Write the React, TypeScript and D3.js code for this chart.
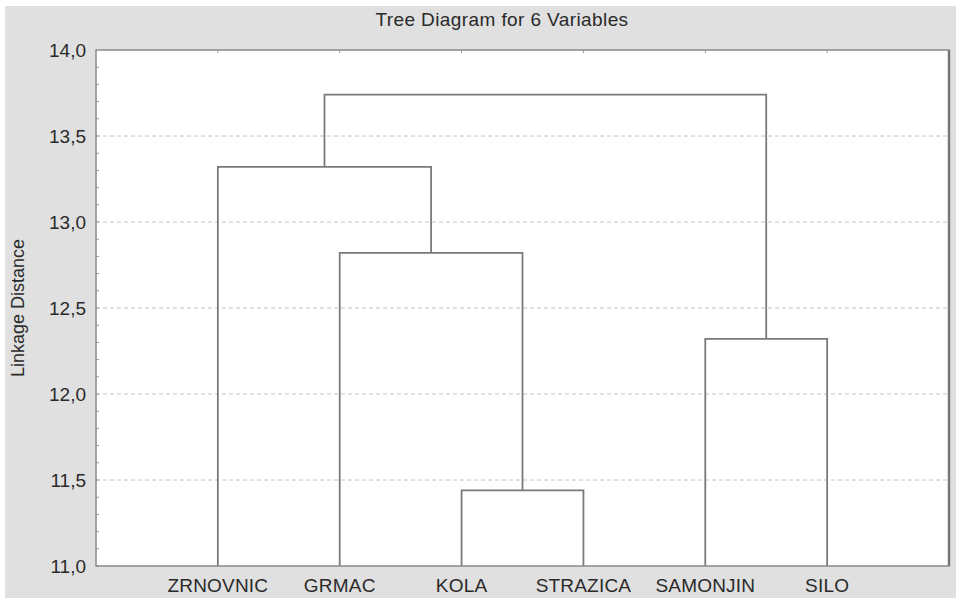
import React from 'react'
import * as d3 from 'd3'

// leaves in drawing order
const leaves = ['ZRNOVNIC', 'GRMAC', 'KOLA', 'STRAZICA', 'SAMONJIN', 'SILO']
// linkage: cluster ids 0..5 are leaves, 6.. are merges in order
const mergeA = [2, 4, 1, 0, 9]
const mergeB = [3, 5, 6, 8, 7]
const mergeHeight = [11.44, 12.32, 12.82, 13.32, 13.74]
const yTicks = [11, 11.5, 12, 12.5, 13, 13.5, 14]

const W = 956
const H = 598
const left = 96
const right = 949
const top = 50
const bottom = 566
const font = 'Arial, "Liberation Sans", sans-serif'

const App = () => {
  const x = d3.scalePoint<string>().domain(leaves).range([left, right]).padding(1)
  const y = d3.scaleLinear().domain([11, 14]).range([bottom, top])
  const fmt = (v: number) => d3.format('.1f')(v).replace('.', ',')

  // position of every cluster
  const nodeX: number[] = leaves.map((l) => x(l) as number)
  const nodeY: number[] = leaves.map(() => y(11))
  const links: string[] = []
  mergeA.forEach((a, i) => {
    const b = mergeB[i]
    const h = y(mergeHeight[i])
    links.push(`M${nodeX[a]},${nodeY[a]}V${h}H${nodeX[b]}V${nodeY[b]}`)
    nodeX.push((nodeX[a] + nodeX[b]) / 2)
    nodeY.push(h)
  })

  const minor = d3.range(110, 140).map((v) => v / 10)

  return (
    <svg width={W} height={H} style={{ position: 'absolute', left: 0, top: 0 }}>
      <rect x={0} y={0} width={W} height={H} fill="#fff" />
      <rect x={5} y={6} width={W - 5} height={H - 6} fill="#e0e0e0" />
      <text x={502} y={26} textAnchor="middle" fontFamily={font} fontSize={19} letterSpacing={0.4} fill="#2a2a2a">
        Tree Diagram for 6 Variables
      </text>
      <rect x={left} y={top} width={right - left} height={bottom - top} fill="#fff" />
      {/* grid */}
      {yTicks.slice(1, -1).map((t) => (
        <line key={t} x1={left} x2={right} y1={y(t)} y2={y(t)} stroke="#c4c4c4" strokeDasharray="4,3" />
      ))}
      {/* minor ticks */}
      {minor.map((t) => (
        <line key={t} x1={left} x2={left + 3} y1={y(t)} y2={y(t)} stroke="#999" />
      ))}
      {leaves.map((l) => (
        <line key={l} x1={x(l)} x2={x(l)} y1={top} y2={top + 3} stroke="#999" />
      ))}
      {/* dendrogram */}
      {links.map((d, i) => (
        <path key={i} d={d} fill="none" stroke="#7a7a7a" strokeWidth={1.8} />
      ))}
      {/* frame */}
      <rect x={left} y={top} width={right - left} height={bottom - top} fill="none" stroke="#8a8a8a" strokeWidth={1.5} />
      <line x1={right} x2={right} y1={top} y2={bottom} stroke="#777" strokeWidth={2.5} />
      {/* y ticks */}
      {yTicks.map((t) => (
        <text key={t} x={86} y={y(t) + 7} textAnchor="end" fontFamily={font} fontSize={19} fill="#2a2a2a">
          {fmt(t)}
        </text>
      ))}
      {leaves.map((l) => (
        <text key={l} x={x(l)} y={592} textAnchor="middle" fontFamily={font} fontSize={19} letterSpacing={0.2} fill="#2a2a2a">
          {l}
        </text>
      ))}
      <text
        transform={`translate(24,${(top + bottom) / 2}) rotate(-90)`}
        textAnchor="middle"
        fontFamily={font}
        fontSize={18}
        fill="#2a2a2a"
      >
        Linkage Distance
      </text>
    </svg>
  )
}

export default App
